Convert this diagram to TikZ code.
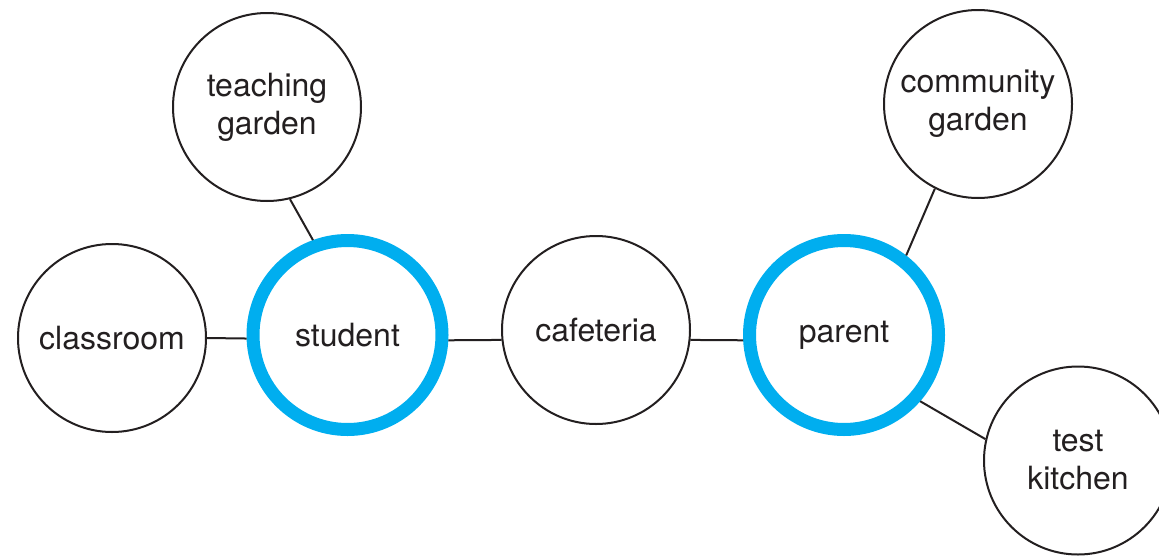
\documentclass[tikz,border=0pt]{standalone}
\usepackage{fontspec}
\setmainfont{TeX Gyre Heros}
\usepackage{tikz}
\definecolor{ink}{HTML}{231F20}
\definecolor{sky}{HTML}{00AEEF}

\begin{document}
\begin{tikzpicture}[x=1pt,y=-1pt,
   place/.style={circle,draw=ink,line width=2pt,fill=white,minimum size=188pt,
      inner sep=0pt,align=center,text=ink,font={\fontsize{32}{38}\selectfont}},
   person/.style={place,draw=sky,line width=13pt,minimum size=189pt},
   link/.style={draw=ink,line width=2pt}]
   \clip (0,0) rectangle (1159,557);
   % places and people
   \node[place] (teaching) at (267,107) {teaching\\garden};
   \node[place] (classroom) at (112,338) {classroom};
   \node[person] (student) at (347.5,335) {student};
   \node[place] (cafeteria) at (596,330) {cafeteria};
   \node[person] (parent) at (844,335) {parent};
   \node[place] (community) at (978,104) {community\\garden};
   \node[place] (kitchen) at (1078,460.5) {test\\kitchen};
   % links
   \draw[link] (classroom.east) -- (student.182);
   \draw[link] (student.110) -- (teaching.284);
   \draw[link] (student.357) -- (cafeteria.186);
   \draw[link] (cafeteria.354) -- (parent.183);
   \draw[link] (parent.52) -- (community.243);
   \draw[link] (parent.319) -- (kitchen.167);
\end{tikzpicture}
\end{document}
